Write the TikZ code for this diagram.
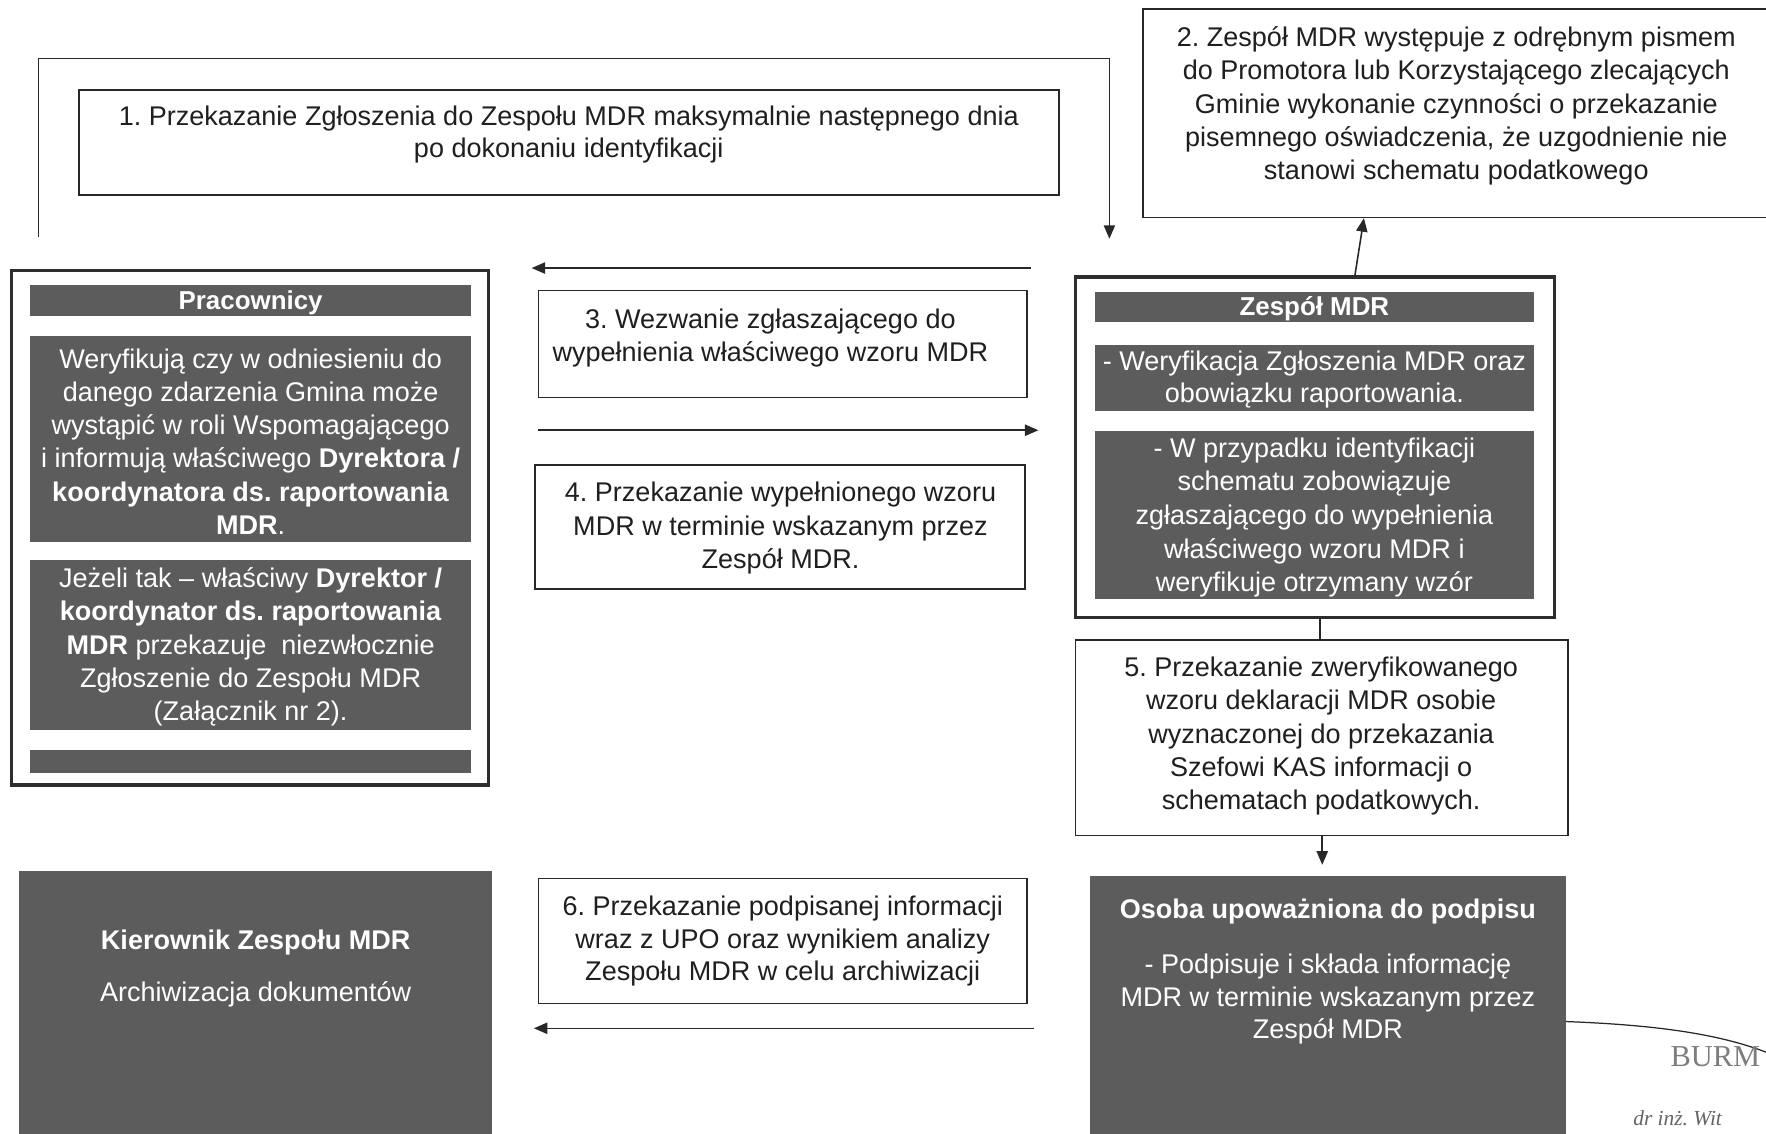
\documentclass[tikz,border=0pt]{standalone}
\usepackage{fontspec}
\setmainfont{Liberation Sans}
\newfontfamily\stampfont{Liberation Serif}
\usetikzlibrary{arrows.meta,calc}
\definecolor{bargray}{RGB}{92,92,92}
\definecolor{framec}{RGB}{45,45,45}
\definecolor{linec}{RGB}{40,40,40}
\definecolor{stampc}{RGB}{125,125,125}
\begin{document}
\frenchspacing
\begin{tikzpicture}[x=1pt,y=-1pt,
  txt/.style={font=\fontsize{24}{29.5}\selectfont, text=black!88, align=center, inner sep=0pt},
  wtxt/.style={txt, text=white},
  plainbox/.style={draw=linec, line width=1.4pt, inner sep=0pt, fill=white},
  bar/.style={fill=bargray, inner sep=0pt},
  frame/.style={draw=framec, line width=3pt, inner sep=0pt, fill=white},
  arr/.style={draw=linec, line width=1.4pt, -{Triangle[length=12pt,width=10pt]}},
]
\useasboundingbox (0,0) rectangle (1568,1006);
\fill[white] (0,0) rectangle (1568,1006);

% ---------- boxes ----------
\node[plainbox, minimum width=870, minimum height=93] (b1) at (505,126.5) {};
\node[plainbox, minimum width=585, minimum height=185] (b2) at (1307.5,100.5) {};
\node[plainbox, minimum width=434, minimum height=95] (b3) at (695,305.5) {};
\node[plainbox, minimum width=435, minimum height=110] (b4) at (692.5,468) {};
\node[plainbox, minimum width=437, minimum height=174] (b5) at (1173.5,655) {};
\node[plainbox, minimum width=434, minimum height=111] (b6) at (695,835.5) {};

% Pracownicy
\node[frame, minimum width=424, minimum height=457] (prac) at (222,468.5) {};
\node[bar, minimum width=391, minimum height=28] (phead) at (222.5,267) {};
\node[bar, minimum width=391, minimum height=183] (pbar1) at (222.5,389.5) {};
\node[bar, minimum width=391, minimum height=151] (pbar2) at (222.5,572.5) {};
\node[bar, minimum width=391, minimum height=20] (pbar3) at (222.5,676) {};

% Zespol MDR
\node[frame, minimum width=425, minimum height=302] (zesp) at (1167.5,397) {};
\node[bar, minimum width=390, minimum height=27] (zhead) at (1167,272.5) {};
\node[bar, minimum width=390, minimum height=59] (zbar1) at (1167,335.5) {};
\node[bar, minimum width=390, minimum height=149] (zbar2) at (1167,457.5) {};

% bottom gray boxes
\node[bar, minimum width=422, minimum height=232] (osoba) at (1179,894) {};
\node[bar, minimum width=420, minimum height=237] (kier) at (227,891.5) {};

% ---------- texts ----------
\node[txt, font=\fontsize{24}{28}\selectfont] (t1) at (505,119.5) {1. Przekazanie Zgłoszenia do Zespołu MDR maksymalnie następnego dnia\\po dokonaniu identyfikacji};
\node[txt] (t2) at (1293,94) {2. Zespół MDR występuje z odrębnym pismem\\do Promotora lub Korzystającego zlecających\\Gminie wykonanie czynności o przekazanie\\pisemnego oświadczenia, że uzgodnienie nie\\stanowi schematu podatkowego};
\node[txt] (t3) at (684,300) {3. Wezwanie zgłaszającego do\\wypełnienia właściwego wzoru MDR};
\node[txt] (t4) at (693,469) {4. Przekazanie wypełnionego wzoru\\MDR w terminie wskazanym przez\\Zespół MDR.};
\node[txt] (t5) at (1173,653.5) {5. Przekazanie zweryfikowanego\\wzoru deklaracji MDR osobie\\wyznaczonej do przekazania\\Szefowi KAS informacji o\\schematach podatkowych.};
\node[txt, font=\fontsize{24}{29}\selectfont] (t6) at (695,835.5) {6. Przekazanie podpisanej informacji\\wraz z UPO oraz wynikiem analizy\\Zespołu MDR w celu archiwizacji};

\node[wtxt, font=\bfseries\fontsize{23}{29.5}\selectfont] (tph) at (222.5,268.5) {Pracownicy};
\node[wtxt] (tp1) at (222.5,392) {Weryfikują czy w odniesieniu do\\danego zdarzenia Gmina może\\wystąpić w roli Wspomagającego\\i informują właściwego \textbf{Dyrektora /}\\\textbf{koordynatora ds. raportowania}\\\textbf{MDR}.};
\node[wtxt] (tp2) at (222.5,574.5) {Jeżeli tak – właściwy \textbf{Dyrektor /}\\\textbf{koordynator ds. raportowania}\\\textbf{MDR} przekazuje\ \ niezwłocznie\\Zgłoszenie do Zespołu MDR\\(Załącznik nr 2).};

\node[wtxt, font=\bfseries\fontsize{23}{29.5}\selectfont] (tzh) at (1167,274) {Zespół MDR};
\node[wtxt, font=\fontsize{24}{28}\selectfont] (tz1) at (1167,337) {- Weryfikacja Zgłoszenia MDR oraz\\obowiązku raportowania.};
\node[wtxt, font=\fontsize{24}{29.8}\selectfont] (tz2) at (1167,459.5) {- W przypadku identyfikacji\\schematu zobowiązuje\\zgłaszającego do wypełnienia\\właściwego wzoru MDR i\\weryfikuje otrzymany wzór};

\node[wtxt, font=\bfseries\fontsize{24}{29}\selectfont] (tos) at (1179,809) {Osoba upoważniona do podpisu};
\node[wtxt, font=\fontsize{24}{29}\selectfont] (tob) at (1179,887) {- Podpisuje i składa informację\\MDR w terminie wskazanym przez\\Zespół MDR};

\node[wtxt, font=\bfseries\fontsize{24}{29}\selectfont] (tkt) at (227,837) {Kierownik Zespołu MDR};
\node[wtxt, font=\fontsize{24}{29}\selectfont] (tkb) at (227,883) {Archiwizacja dokumentów};

% ---------- connectors ----------
\coordinate (loopstart) at (34,210);
\coordinate (looptop) at (985,52);
\coordinate (loopend) at (985,212);
\draw[arr] (loopstart) |- (looptop) -- (loopend);

\draw[arr] ($(zesp.north)+(35.5,0)$) -- ($(b2.south)+(-96.5,0)$);

\coordinate (a3s) at (915,238);
\coordinate (a3e) at (472,238);
\draw[arr] (a3s) -- (a3e);

\coordinate (a4s) at (478,382);
\coordinate (a4e) at (922,382);
\draw[arr] (a4s) -- (a4e);

\draw[linec, line width=1.4pt] ($(zesp.south)+(4.5,0)$) -- ($(b5.north)+(-1.5,0)$);
\draw[arr] ($(b5.south)+(0.5,0)$) -- ($(osoba.north)+(-5,-10)$);

\coordinate (a6s) at (918,913);
\coordinate (a6e) at (474,913);
\draw[arr] (a6s) -- (a6e);

% ---------- stamp fragment ----------
\draw[linec, line width=1.1pt] (osoba.east |- 0,907) .. controls (1470,910) and (1530,918) .. (1575,937);
\node[anchor=base west, inner sep=0pt, text=stampc, font=\stampfont\fontsize{27}{30}\selectfont] (stamp1) at (1483,947) {BURM};
\node[anchor=base west, inner sep=0pt, text=stampc!80!black, font=\stampfont\itshape\fontsize{19}{22}\selectfont] (stamp2) at (1450,999) {dr inż. Wit};
\end{tikzpicture}
\end{document}
